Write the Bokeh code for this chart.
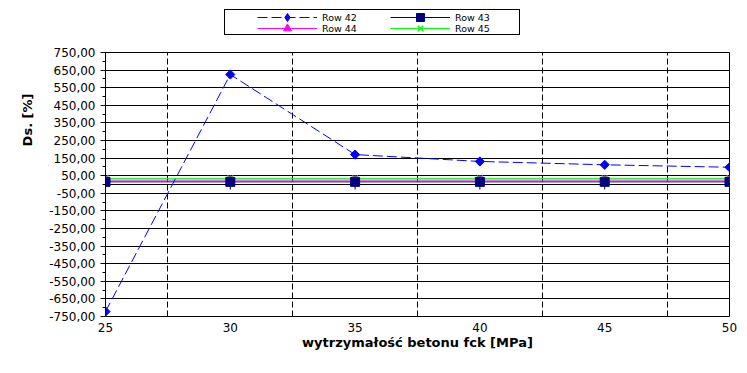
import math
from bokeh.plotting import figure
from bokeh.layouts import column
from bokeh.models import FixedTicker, CustomJSTickFormatter, Span, Legend, LegendItem, Title
from bokeh.embed import file_html
from bokeh.resources import INLINE

# ---- data ----
fck = [25, 30, 35, 40, 45, 50]
row42 = [-722, 625, 170, 131, 112, 98]
row43 = [15, 15, 15, 15, 15, 15]
row44 = [25, 25, 25, 25, 25, 25]
row45 = [35, 35, 35, 35, 35, 35]
zero_level = [0, 0, 0, 0, 0, 0]

y_ticks = [-750, -650, -550, -450, -350, -250, -150, -50, 50, 150, 250, 350, 450, 550, 650, 750]
y_minor = [-700, -600, -500, -400, -300, -200, -100, 0, 100, 200, 300, 400, 500, 600, 700]
x_ticks = [25, 30, 35, 40, 45, 50]
x_grid = [27.5, 32.5, 37.5, 42.5, 47.5]
series_names = ["Row 42", "Row 43", "Row 44", "Row 45"]
x_title = "wytrzymałość betonu fck [MPa]"
y_title = "Ds. [%]"

FONT = "DejaVu Sans"
styles = {
    "Row 42": dict(color="#0000ff", dash="10 4", marker="square", angle=math.pi / 4, size=6.5,
                   legend_marker="diamond"),
    "Row 43": dict(color="#000080", dash="solid", marker="square", angle=0, size=9,
                   legend_marker="square"),
    "Row 44": dict(color="#ff00ff", dash="solid", marker="triangle", angle=0, size=8,
                   legend_marker="triangle"),
    "Row 45": dict(color="#00ff00", dash="solid", marker="x", angle=0, size=8,
                   legend_marker="x"),
}
series = {"Row 42": row42, "Row 43": row43, "Row 44": row44, "Row 45": row45}

# ================= main chart =================
p = figure(width=739, height=325, x_range=(25, 50), y_range=(-750, 750),
           output_backend="svg", toolbar_location=None, title=None,
           min_border_left=105, min_border_right=10, min_border_top=12, min_border_bottom=49)
p.background_fill_color = "white"
p.border_fill_color = "white"
p.outline_line_color = "black"
p.outline_line_alpha = 1
p.outline_line_width = 1

# x axis
p.xaxis.ticker = FixedTicker(ticks=x_ticks)
p.xaxis.major_tick_line_color = None
p.xaxis.minor_tick_line_color = None
p.xaxis.major_tick_out = 0
p.xaxis.major_tick_in = 0
p.xaxis.minor_tick_out = 0
p.xaxis.minor_tick_in = 0
p.xaxis.axis_line_color = None
p.xaxis.major_label_text_font = FONT
p.xaxis.major_label_text_font_size = "12px"
p.xaxis.major_label_text_color = "black"
p.xaxis.major_label_standoff = 6
p.xaxis.axis_label = x_title
p.xaxis.axis_label_text_font = FONT
p.xaxis.axis_label_text_font_size = "13px"
p.xaxis.axis_label_text_font_style = "bold"
p.xaxis.axis_label_text_color = "black"
p.xaxis.axis_label_standoff = 0

# y axis
p.yaxis.ticker = FixedTicker(ticks=y_ticks, minor_ticks=y_minor)
p.yaxis.formatter = CustomJSTickFormatter(code="return tick.toFixed(2).replace('.', ',');")
p.yaxis.major_tick_out = 5
p.yaxis.major_tick_in = 0
p.yaxis.minor_tick_out = 3
p.yaxis.minor_tick_in = 0
p.yaxis.major_tick_line_color = "black"
p.yaxis.minor_tick_line_color = "black"
p.yaxis.axis_line_color = "black"
p.yaxis.major_label_text_font = FONT
p.yaxis.major_label_text_font_size = "12px"
p.yaxis.major_label_text_color = "black"
p.yaxis.major_label_standoff = 5

# y title, placed in the upper half like the reference
p.add_layout(Title(text=y_title, align="right", offset=41, standoff=23,
                   text_font=FONT, text_font_size="13px", text_font_style="bold",
                   text_color="black"), "left")

# grids
p.ygrid.grid_line_color = "black"
p.ygrid.grid_line_alpha = 1
p.xgrid.ticker = FixedTicker(ticks=x_grid)
p.xgrid.grid_line_color = "black"
p.xgrid.grid_line_alpha = 1
p.xgrid.grid_line_dash = "6 3"

# zero line (x axis crossing)
p.add_layout(Span(location=0, dimension="width", line_color="black", line_width=1, level="underlay"))

draw_order = ["Row 45", "Row 44", "Row 43", "Row 42"]
for name in draw_order:
    st = styles[name]
    p.line(fck, series[name], line_color=st["color"], line_width=1, line_dash=st["dash"])

# tick marks on the zero axis
p.scatter(fck, zero_level, marker="dash", angle=math.pi / 2, size=10, line_color="black", line_width=1)

for name in draw_order:
    st = styles[name]
    p.scatter(fck, series[name], marker=st["marker"], angle=st["angle"], size=st["size"],
              fill_color=st["color"], line_color=st["color"],
              line_width=1.5 if st["marker"] == "x" else 1)

# ================= legend strip =================
top = figure(width=739, height=40, x_range=(0, 1), y_range=(0, 1),
             output_backend="svg", toolbar_location=None, title=None,
             x_axis_type=None, y_axis_type=None, min_border=0)
top.outline_line_color = None
top.background_fill_color = "white"
top.border_fill_color = "white"
top.grid.visible = False

# swatch renderers: the series themselves, lying outside this strip's ranges
box_dummy = top.scatter(fck, row43, alpha=0)
legend_box = Legend(items=[LegendItem(label=" ", renderers=[box_dummy])], location=(119, 5),
                    glyph_width=200, glyph_height=24, label_width=94, label_height=24,
                    label_standoff=0, padding=0, margin=0, spacing=0,
                    border_line_color="black", border_line_width=1, border_line_alpha=1,
                    background_fill_color="white", background_fill_alpha=1)
top.add_layout(legend_box, "center")

items = {}
for name in series_names:
    st = styles[name]
    lr = top.line(fck, series[name], line_color=st["color"], line_width=1, line_dash=st["dash"])
    sr = top.scatter(fck, series[name], marker=st["legend_marker"],
                     fill_color=st["color"], line_color=st["color"],
                     line_width=1.5 if st["marker"] == "x" else 1)
    items[name] = LegendItem(label=name, renderers=[lr, sr])

legend_rows = [([items["Row 42"], items["Row 43"]], 13),
               ([items["Row 44"], items["Row 45"]], 2)]
for row_items, vy in legend_rows:
    lg = Legend(items=row_items, location=(152, vy), orientation="horizontal",
                glyph_width=60, glyph_height=20, label_height=20, label_width=68,
                label_standoff=5, spacing=0, padding=0, margin=0,
                border_line_alpha=0, background_fill_alpha=0,
                label_text_font=FONT, label_text_font_size="9.5px", label_text_color="black")
    top.add_layout(lg, "center")

layout = column(top, p, spacing=0)
open("out.html", "w").write(file_html(layout, INLINE))
